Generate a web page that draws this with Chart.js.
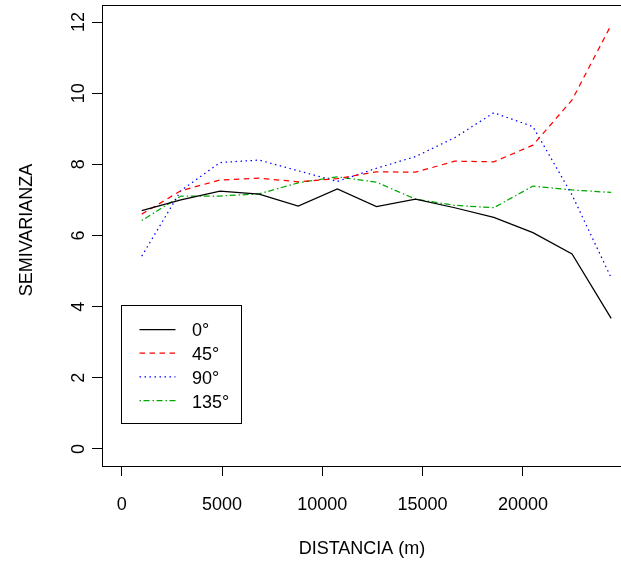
<!DOCTYPE html>
<html><head><meta charset="utf-8">
<script src="https://cdn.jsdelivr.net/npm/chart.js@4.4.1/dist/chart.umd.min.js"></script>
<style>html,body{margin:0;padding:0;overflow:hidden;background:#fff;width:621px;height:563px}canvas{display:block}</style>
</head><body>
<canvas id="c" width="640" height="563" style="width:640px;height:563px"></canvas>
<script>
const lags = [1000, 2950, 4900, 6850, 8800, 10750, 12700, 14650, 16600, 18550, 20500, 22450, 24400];
const dir0 = [6.70, 7.00, 7.25, 7.16, 6.83, 7.31, 6.81, 7.02, 6.78, 6.51, 6.08, 5.48, 3.67];
const dir45 = [6.60, 7.26, 7.56, 7.61, 7.51, 7.60, 7.79, 7.78, 8.09, 8.07, 8.54, 9.81, 11.92];
const dir90 = [5.42, 7.26, 8.05, 8.12, 7.82, 7.52, 7.89, 8.22, 8.75, 9.45, 9.06, 7.14, 4.81];
const dir135 = [6.42, 7.11, 7.11, 7.17, 7.48, 7.65, 7.50, 7.02, 6.85, 6.78, 7.39, 7.28, 7.21];
const seriesLabels = ['0°', '45°', '90°', '135°'];
const xTicks = [0, 5000, 10000, 15000, 20000];
const yTicks = [0, 2, 4, 6, 8, 10, 12];
const xTitle = 'DISTANCIA (m)';
const yTitle = 'SEMIVARIANZA';

const FONT = '"Liberation Sans", Arial, sans-serif';
const colors = ['#000000', '#ff0000', '#0000ff', '#00a800'];
const dashes = [[], [5.5, 4.5], [1.5, 3.5], [1.5, 2.5, 6, 3]];
const seriesValues = [dir0, dir45, dir90, dir135];

const datasets = seriesValues.map((vals, i) => ({
  label: seriesLabels[i],
  data: lags.map((x, j) => ({x: x, y: vals[j]})),
  borderColor: colors[i],
  borderWidth: 1.25,
  borderDash: dashes[i],
  pointRadius: 0,
  tension: 0,
  fill: false
}));

const decor = {
  id: 'decor',
  afterDraw(chart) {
    const ctx = chart.ctx, a = chart.chartArea;
    ctx.save();
    ctx.strokeStyle = '#000';
    ctx.lineWidth = 1;
    ctx.setLineDash([]);
    ctx.strokeRect(Math.round(a.left) + 0.5, Math.round(a.top) + 0.5, Math.round(a.right - a.left), Math.round(a.bottom - a.top));
    // legend
    const lx = 121.5, ly = 305.5, lw = 120, lh = 118;
    ctx.strokeRect(lx, ly, lw, lh);
    ctx.font = '18px ' + FONT;
    ctx.fillStyle = '#000';
    ctx.textAlign = 'left';
    ctx.textBaseline = 'middle';
    chart.data.datasets.forEach((ds, i) => {
      const y = 329.5 + i * 23.7;
      ctx.strokeStyle = ds.borderColor;
      ctx.lineWidth = 1.25;
      ctx.setLineDash(ds.borderDash);
      ctx.beginPath();
      ctx.moveTo(139.5, y);
      ctx.lineTo(175.5, y);
      ctx.stroke();
      ctx.fillText(ds.label, 192, y + 2);
    });
    ctx.setLineDash([]);
    // axis titles
    ctx.textAlign = 'center';
    ctx.textBaseline = 'alphabetic';
    ctx.fillText(xTitle, 362, 554);
    ctx.translate(31.5, 230);
    ctx.rotate(-Math.PI / 2);
    ctx.fillText(yTitle, 0, 0);
    ctx.restore();
  }
};

new Chart(document.getElementById('c'), {
  type: 'line',
  data: {datasets: datasets},
  options: {
    responsive: false,
    animation: false,
    events: [],
    layout: {padding: {left: 0, top: 5, right: 18, bottom: 0}},
    plugins: {legend: {display: false}, tooltip: {enabled: false}},
    scales: {
      x: {
        type: 'linear',
        min: -982,
        max: 24940,
        afterBuildTicks: s => { s.ticks = xTicks.map(v => ({value: v})); },
        afterFit: s => { s.height = 97; s.paddingLeft = 0; s.paddingRight = 0; },
        border: {display: false},
        grid: {drawOnChartArea: false, drawTicks: true, tickLength: 10, color: '#000', lineWidth: 1},
        ticks: {color: '#000', font: {family: FONT, size: 18}, padding: 18, maxRotation: 0, minRotation: 0, autoSkip: false, callback: v => String(v)}
      },
      y: {
        type: 'linear',
        min: -0.48,
        max: 12.48,
        afterBuildTicks: s => { s.ticks = yTicks.map(v => ({value: v})); },
        afterFit: s => { s.width = 102; s.paddingTop = 0; s.paddingBottom = 0; },
        border: {display: false},
        grid: {drawOnChartArea: false, drawTicks: true, tickLength: 10, color: '#000', lineWidth: 1},
        ticks: {color: '#000', font: {family: FONT, size: 18}, padding: 3, minRotation: 90, maxRotation: 90, crossAlign: 'center', autoSkip: false, callback: v => String(v)}
      }
    }
  },
  plugins: [decor]
});
</script>
</body></html>
